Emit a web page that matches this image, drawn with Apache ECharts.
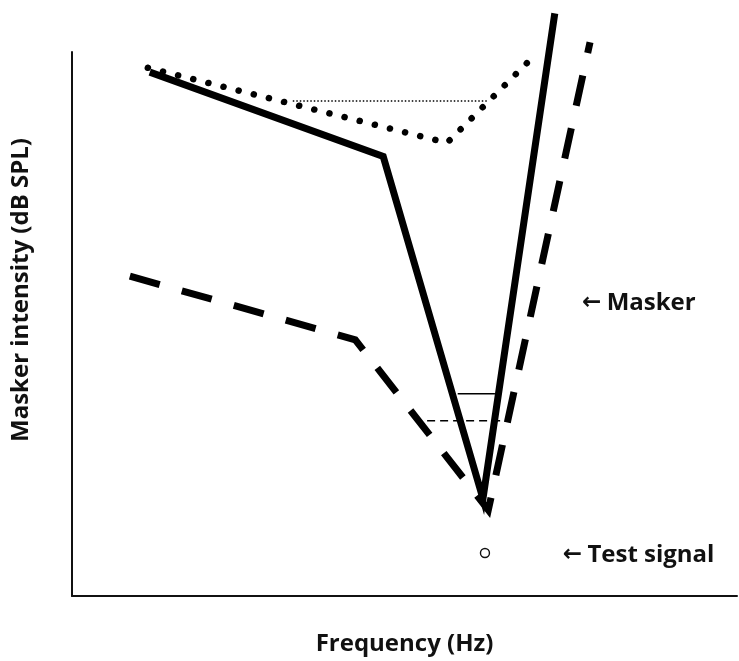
<!DOCTYPE html>
<html>
<head>
<meta charset="utf-8">
<script src="https://cdn.jsdelivr.net/npm/echarts@6/dist/echarts.min.js"></script>
<style>
html,body{margin:0;padding:0;background:#fff;}
#chart{width:739px;height:661px;}
</style>
</head>
<body>
<div id="chart"></div>
<script>
// Values on a 0-100 frequency scale (x) and 0-100 intensity scale (y)
const solidCurve = [[11.7, 96.3], [46.8, 80.8], [61.8, 17.9], [72.6, 107.1]];
const dottedCurve = [[11.4, 97.1], [56.4, 83.3], [68.6, 98.2]];
const dashedCurve = [[8.7, 58.8], [42.6, 47.1], [62.6, 15.8], [77.9, 101.8]];
const thinDotted = [[33.2, 91.0], [62.4, 91.0]];
const thinSolid = [[58.0, 37.2], [63.6, 37.2]];
const thinDashed = [[53.4, 32.2], [64.8, 32.2]];
const testSignal = [[62.1, 7.9]];
const maskerLabel = [[76.7, 53.8]];
const testLabel = [[73.8, 7.5]];
const maskerText = 'Masker';
const testText = 'Test signal';
const xName = 'Frequency (Hz)';
const yName = 'Masker intensity (dB SPL)';

const FONT = 'Open Sans';
const FS = 24;
const INK = '#111';
const chart = echarts.init(document.getElementById('chart'));

function line(data, width, type, cap) {
  return {
    type: 'line', data: data, symbol: 'none', clip: false, silent: true,
    lineStyle: { color: '#000', width: width, type: type, cap: cap || 'butt', join: 'miter' },
    animation: false
  };
}

function annotation(data, text) {
  return {
    type: 'scatter', data: data, symbolSize: 0, silent: true,
    itemStyle: { opacity: 1, color: INK },
    label: {
      show: true, position: 'right', distance: 0,
      formatter: '{a|\u2190} {t|' + text + '}',
      rich: {
        a: { fontFamily: 'DejaVu Sans', fontWeight: 'bold', fontSize: 23, color: INK, padding: [0, 2, 0, 0] },
        t: { fontFamily: FONT, fontWeight: 'bold', fontSize: FS, color: INK }
      }
    }
  };
}

chart.setOption({
  animation: false,
  grid: { left: 72, right: 2, top: 52, bottom: 63 },
  xAxis: {
    type: 'value', min: 0, max: 100,
    name: xName, nameLocation: 'middle', nameGap: 36,
    nameTextStyle: { fontFamily: FONT, fontWeight: 'bold', fontSize: FS, color: INK },
    axisLine: { show: true, lineStyle: { color: '#111', width: 2 } },
    axisTick: { show: false }, axisLabel: { show: false }, splitLine: { show: false }
  },
  yAxis: {
    type: 'value', min: 0, max: 100,
    name: yName, nameLocation: 'middle', nameGap: 39,
    nameTextStyle: { fontFamily: FONT, fontWeight: 'bold', fontSize: FS, color: INK, padding: [0, 0, 0, 68] },
    axisLine: { show: true, lineStyle: { color: '#111', width: 2 } },
    axisTick: { show: false }, axisLabel: { show: false }, splitLine: { show: false }
  },
  series: [
    line(solidCurve, 7, 'solid'),
    line(dottedCurve, 6.5, [0.1, 15.5], 'round'),
    line(dashedCurve, 7, [31, 23]),
    line(thinDotted, 1.4, [1.5, 2]),
    line(thinSolid, 1.5, 'solid'),
    line(thinDashed, 1.5, [8, 5]),
    {
      type: 'scatter', data: testSignal, symbol: 'circle', symbolSize: 9, silent: true,
      itemStyle: { opacity: 1, color: '#fff', borderColor: '#111', borderWidth: 1.4 }
    },
    annotation(maskerLabel, maskerText),
    annotation(testLabel, testText)
  ]
});
</script>
</body>
</html>
